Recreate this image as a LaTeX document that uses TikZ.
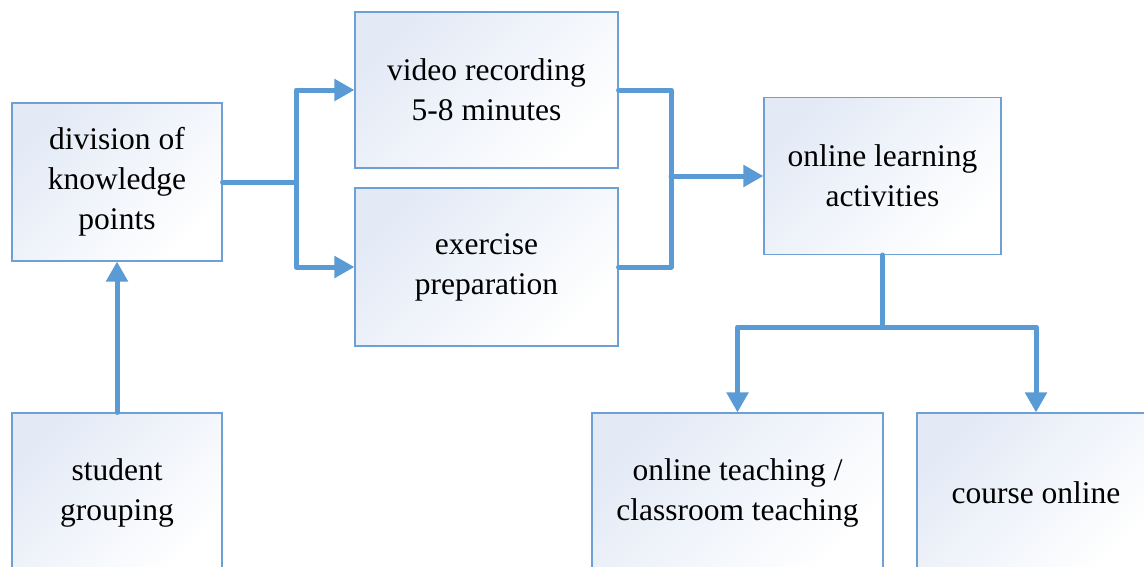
\documentclass[tikz,border=0pt]{standalone}
\usepackage{fontspec}
\setmainfont{Liberation Serif}
\usetikzlibrary{arrows.meta}
\definecolor{linkblue}{HTML}{5B9BD5}
\definecolor{boxedge}{HTML}{6FA0D3}
\definecolor{boxtint}{HTML}{E3EAF6}
\tikzset{
  box/.style={draw=boxedge, line width=1.1pt, top color=boxtint, bottom color=white, shading angle=45,
    align=center, inner sep=0pt, font=\fontsize{31.5}{40}\selectfont, text=black},
  conn/.style={draw=linkblue, line width=5pt, line join=round, line cap=round},
  arr/.style={conn, -{Triangle[length=20pt,width=21pt]}}
}
\begin{document}
\begin{tikzpicture}[x=1pt,y=-1pt]
\useasboundingbox (0,0) rectangle (1144,566);
\clip (0,0) rectangle (1144,566);
\node[box, minimum width=210pt, minimum height=158pt] (A) at (117,182) {division of\\knowledge\\points};
\node[box, minimum width=210pt, minimum height=160pt] (B) at (117,493) {student\\grouping};
\node[box, minimum width=263pt, minimum height=156pt] (C) at (486.5,90) {video recording\\5-8 minutes};
\node[box, minimum width=263pt, minimum height=158pt] (D) at (486.5,267) {exercise\\preparation};
\node[box, minimum width=237pt, minimum height=157pt] (E) at (882.5,176) {online learning\\activities};
\node[box, minimum width=291pt, minimum height=160pt] (F) at (737.5,493) {online teaching /\\classroom teaching};
\node[box, minimum width=238pt, minimum height=160pt] (G) at (1036,493) {course online};
\coordinate (s1) at (296,182);
\coordinate (j) at (671,176);
\coordinate (s3) at (882.5,327);
\draw[arr] (B.north) -- (A.south);
\draw[conn] (A.east) -- (s1);
\draw[arr] (s1) |- (C.west);
\draw[arr] (s1) |- (D.west);
\draw[conn] (C.east) -| (j);
\draw[conn] (D.east) -| (j);
\draw[arr] (j) -- (E.west);
\draw[conn] (E.south) -- (s3);
\draw[arr] (s3) -| (F.north);
\draw[arr] (s3) -| (G.north);
\end{tikzpicture}
\end{document}
